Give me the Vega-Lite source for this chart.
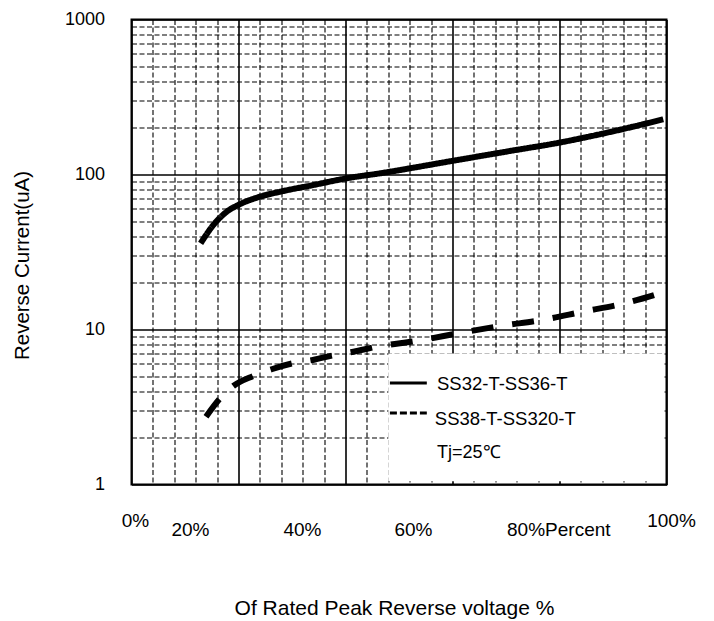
{
  "$schema": "https://vega.github.io/schema/vega-lite/v6.json",
  "width": 535,
  "height": 465,
  "autosize": {"type": "none"},
  "padding": {"left": 131.5, "top": 19.5, "right": 47.5, "bottom": 136.5},
  "background": "white",
  "config": {
    "view": {"stroke": "black", "strokeWidth": 2},
    "font": "Liberation Sans, Arial, sans-serif",
    "text": {"font": "Liberation Sans, Arial, sans-serif"}
  },
  "resolve": {"axis": {"x": "independent"}},
  "layer": [
    {
      "data": {"values": [{"box": "legend"}]},
      "mark": {"type": "rect", "fill": "white", "stroke": null},
      "encoding": {
        "x": {
          "datum": 48,
          "type": "quantitative",
          "scale": {"domain": [0, 100], "nice": false, "zero": false},
          "axis": {
            "orient": "bottom",
            "values": [0.65, 10.93, 31.87, 52.6, 70.1, 100],
            "labelExpr": "datum.value < 5 ? '0%' : datum.value < 20 ? '20%' : datum.value < 40 ? '40%' : datum.value < 60 ? '60%' : datum.value < 90 ? '80%Percent' : '100%'",
            "labelAlign": {"condition": {"test": "datum.value > 60 && datum.value < 90", "value": "left"}, "value": "center"},
            "labelOffset": {"condition": {"test": "datum.value > 90", "value": 4.5}, "value": 0},
            "labelPadding": {"condition": {"test": "datum.value < 5 || datum.value > 90", "value": 36}, "value": 45},
            "labelBaseline": "middle",
            "labelFontSize": 19,
            "labelColor": "black",
            "labelFlush": false,
            "labelOverlap": false,
            "grid": false,
            "ticks": false,
            "domain": false,
            "title": null
          }
        },
        "x2": {"datum": 99.4},
        "y": {"datum": 1.05, "type": "quantitative"},
        "y2": {"datum": 7}
      }
    },
    {
      "data": {
        "values": [
          {"pct": 12.93, "current": 36.0, "series": "SS32-T-SS36-T"},
          {"pct": 15.29, "current": 47.2, "series": "SS32-T-SS36-T"},
          {"pct": 17.79, "current": 57.5, "series": "SS32-T-SS36-T"},
          {"pct": 19.96, "current": 63.6, "series": "SS32-T-SS36-T"},
          {"pct": 24.0, "current": 71.9, "series": "SS32-T-SS36-T"},
          {"pct": 27.76, "current": 77.4, "series": "SS32-T-SS36-T"},
          {"pct": 33.98, "current": 85.5, "series": "SS32-T-SS36-T"},
          {"pct": 40.2, "current": 94.5, "series": "SS32-T-SS36-T"},
          {"pct": 46.45, "current": 101.8, "series": "SS32-T-SS36-T"},
          {"pct": 59.85, "current": 122.2, "series": "SS32-T-SS36-T"},
          {"pct": 70.75, "current": 141.8, "series": "SS32-T-SS36-T"},
          {"pct": 80.1, "current": 160.9, "series": "SS32-T-SS36-T"},
          {"pct": 89.44, "current": 188, "series": "SS32-T-SS36-T"},
          {"pct": 99.4, "current": 227, "series": "SS32-T-SS36-T"},
          {"pct": 13.93, "current": 2.74, "series": "SS38-T-SS320-T"},
          {"pct": 16.41, "current": 3.55, "series": "SS38-T-SS320-T"},
          {"pct": 19.03, "current": 4.32, "series": "SS38-T-SS320-T"},
          {"pct": 22.77, "current": 5.01, "series": "SS38-T-SS320-T"},
          {"pct": 26.2, "current": 5.54, "series": "SS38-T-SS320-T"},
          {"pct": 30.2, "current": 6.06, "series": "SS38-T-SS320-T"},
          {"pct": 33.9, "current": 6.36, "series": "SS38-T-SS320-T"},
          {"pct": 38.0, "current": 6.85, "series": "SS38-T-SS320-T"},
          {"pct": 41.5, "current": 7.19, "series": "SS38-T-SS320-T"},
          {"pct": 45.8, "current": 7.74, "series": "SS38-T-SS320-T"},
          {"pct": 53.6, "current": 8.47, "series": "SS38-T-SS320-T"},
          {"pct": 61.1, "current": 9.45, "series": "SS38-T-SS320-T"},
          {"pct": 68.9, "current": 10.53, "series": "SS38-T-SS320-T"},
          {"pct": 76.8, "current": 11.52, "series": "SS38-T-SS320-T"},
          {"pct": 84.4, "current": 13.03, "series": "SS38-T-SS320-T"},
          {"pct": 92.2, "current": 14.76, "series": "SS38-T-SS320-T"},
          {"pct": 99.7, "current": 17.5, "series": "SS38-T-SS320-T"}
        ]
      },
      "mark": {"type": "line", "interpolate": "monotone", "strokeWidth": 6, "strokeCap": "butt", "color": "black"},
      "encoding": {
        "x": {
          "field": "pct",
          "type": "quantitative",
          "scale": {"domain": [0, 100], "nice": false, "zero": false},
          "axis": {
            "orient": "bottom",
            "values": [0, 4, 8, 12, 16, 20, 24, 28, 32, 36, 40, 44, 48, 52, 56, 60, 64, 68, 72, 76, 80, 84, 88, 92, 96, 100],
            "grid": true,
            "gridColor": "black",
            "gridOpacity": 1,
            "gridWidth": {"condition": {"test": "datum.value % 20 === 0", "value": 1.6}, "value": 1.1},
            "gridDash": {"condition": {"test": "datum.value % 20 === 0", "value": []}, "value": [5, 2.5]},
            "labels": false,
            "ticks": false,
            "domain": false,
            "title": "Of Rated Peak Reverse voltage %",
            "titleX": 262.5,
            "titleY": 123.5,
            "titleBaseline": "middle",
            "titleAlign": "center",
            "titleAnchor": null,
            "titleFontSize": 21,
            "titleFontWeight": "normal",
            "titleColor": "black"
          }
        },
        "y": {
          "field": "current",
          "type": "quantitative",
          "scale": {"type": "log", "domain": [1, 1000], "nice": false},
          "axis": {
            "values": [1, 2, 3, 4, 5, 6, 7, 8, 9, 10, 20, 30, 40, 50, 60, 70, 80, 90, 100, 200, 300, 400, 500, 600, 700, 800, 900, 1000],
            "grid": true,
            "gridColor": "black",
            "gridOpacity": 1,
            "gridWidth": {"condition": {"test": "datum.value == 1 || datum.value == 10 || datum.value == 100 || datum.value == 1000", "value": 1.6}, "value": 1.1},
            "gridDash": {"condition": {"test": "datum.value == 1 || datum.value == 10 || datum.value == 100 || datum.value == 1000", "value": []}, "value": [5, 2.5]},
            "labelExpr": "(datum.value == 1 || datum.value == 10 || datum.value == 100 || datum.value == 1000) ? format(datum.value, 'd') : ''",
            "labelPadding": 27,
            "labelFontSize": 18,
            "labelColor": "black",
            "labelBaseline": "middle",
            "labelOverlap": false,
            "labelFlush": false,
            "ticks": false,
            "domain": false,
            "title": "Reverse Current(uA)",
            "titleX": -109,
            "titleY": 245.5,
            "titleAngle": -90,
            "titleBaseline": "middle",
            "titleAlign": "center",
            "titleAnchor": null,
            "titleFontSize": 20.5,
            "titleFontWeight": "normal",
            "titleColor": "black"
          }
        },
        "strokeDash": {
          "field": "series",
          "type": "nominal",
          "scale": {"domain": ["SS32-T-SS36-T", "SS38-T-SS320-T"], "range": [[1, 0], [22, 19]]},
          "legend": null
        }
      }
    },
    {
      "data": {"values": [{"series": "SS32-T-SS36-T"}]},
      "mark": {"type": "rule", "strokeWidth": 3, "color": "black"},
      "encoding": {
        "x": {"datum": 48.3, "type": "quantitative", "axis": null},
        "x2": {"datum": 55.2},
        "y": {"datum": 4.52, "type": "quantitative"}
      }
    },
    {
      "data": {"values": [{"series": "SS38-T-SS320-T"}]},
      "mark": {"type": "rule", "strokeWidth": 3, "color": "black", "strokeDash": [7, 3]},
      "encoding": {
        "x": {"datum": 48.3, "type": "quantitative", "axis": null},
        "x2": {"datum": 55.2},
        "y": {"datum": 2.89, "type": "quantitative"}
      }
    },
    {
      "data": {"values": [{"series": "SS32-T-SS36-T"}]},
      "mark": {"type": "text", "align": "left", "baseline": "middle", "fontSize": 18.5, "color": "black"},
      "encoding": {
        "text": {"field": "series"},
        "x": {"datum": 57.1, "type": "quantitative", "axis": null},
        "y": {"datum": 4.45, "type": "quantitative"}
      }
    },
    {
      "data": {"values": [{"series": "SS38-T-SS320-T"}]},
      "mark": {"type": "text", "align": "left", "baseline": "middle", "fontSize": 18.5, "color": "black"},
      "encoding": {
        "text": {"field": "series"},
        "x": {"datum": 56.7, "type": "quantitative", "axis": null},
        "y": {"datum": 2.65, "type": "quantitative"}
      }
    },
    {
      "data": {"values": [{"note": "Tj=25℃"}]},
      "mark": {"type": "text", "align": "left", "baseline": "middle", "fontSize": 18, "color": "black"},
      "encoding": {
        "text": {"field": "note"},
        "x": {"datum": 57.1, "type": "quantitative", "axis": null},
        "y": {"datum": 1.6, "type": "quantitative"}
      }
    }
  ]
}
